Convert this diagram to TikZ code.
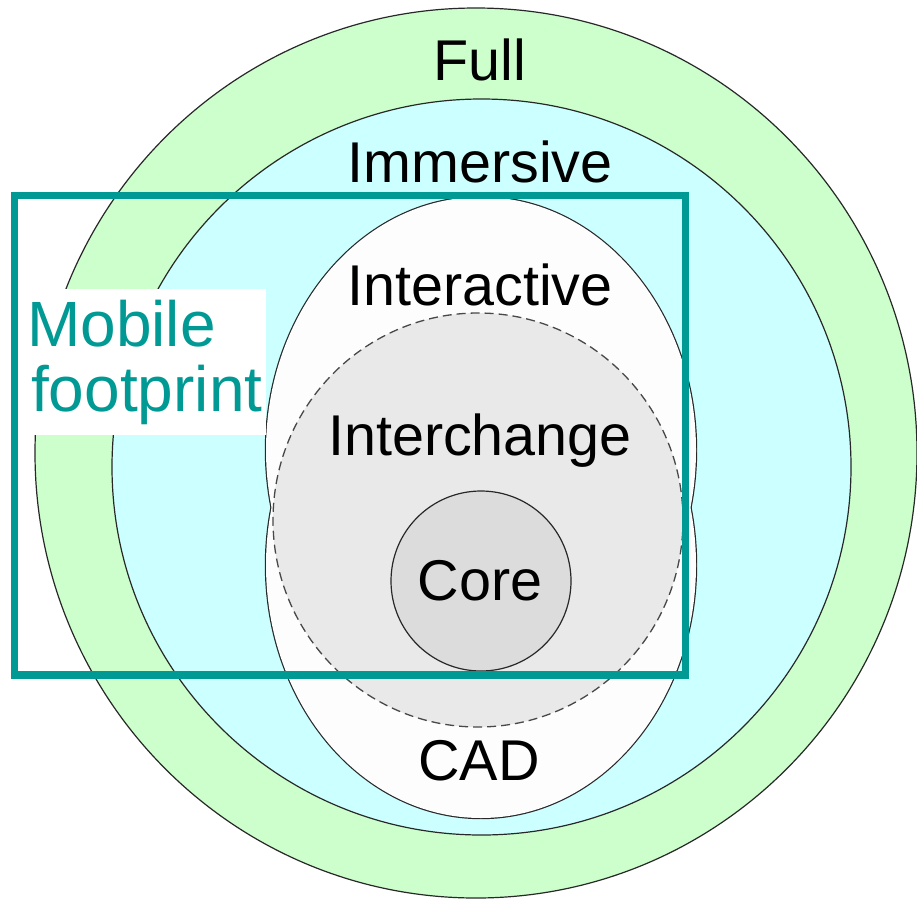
\documentclass[tikz,border=0pt]{standalone}
\usepackage{fontspec}
\setmainfont{Liberation Sans}
\definecolor{fullgreen}{RGB}{204,255,204}
\definecolor{immcyan}{RGB}{204,255,255}
\definecolor{interfill}{RGB}{253,253,253}
\definecolor{chgfill}{RGB}{233,233,233}
\definecolor{corefill}{RGB}{220,220,220}
\definecolor{mobteal}{RGB}{0,153,148}
\definecolor{ringline}{RGB}{40,40,40}
\begin{document}
\begin{tikzpicture}[x=1pt,y=-1pt,
  ring/.style={draw=ringline, line width=1.2pt},
  lbl/.style={font=\fontsize{57.5}{66}\selectfont, text=black, inner sep=0pt, anchor=base},
  moblbl/.style={font=\fontsize{64}{66}\selectfont, text=mobteal, inner sep=0pt, anchor=base west}]
\useasboundingbox (0,0) rectangle (917,900);
\fill[white] (0,0) rectangle (917,900);
% Full
\draw[ring, fill=fullgreen] (476,453) ellipse [x radius=441pt, y radius=445pt];
% Immersive
\draw[ring, fill=immcyan] (481.5,467) ellipse [x radius=369.5pt, y radius=368pt];
% Interactive / CAD union (outline of the union only)
\draw[draw=ringline, line width=2.4pt] (481,450) ellipse [x radius=215pt, y radius=253pt];
\draw[draw=ringline, line width=2.4pt] (481,565) ellipse [x radius=215pt, y radius=253pt];
\fill[interfill] (481,450) ellipse [x radius=215pt, y radius=253pt];
\fill[interfill] (481,565) ellipse [x radius=215pt, y radius=253pt];
% Interchange
\draw[draw=ringline!85, line width=1.3pt, dash pattern=on 9pt off 5pt, fill=chgfill] (478,520) ellipse [x radius=205pt, y radius=207pt];
% Core
\draw[ring, fill=corefill] (481,581) circle [radius=90pt];
% Mobile footprint label box and frame
\fill[white] (18,289) rectangle (266,435);
\draw[mobteal, line width=7.5pt] (14.5,195.5) rectangle (685.5,675);
% Labels
\node[lbl] (full) at (480,80) {Full};
\node[lbl] (imm) at (480,182) {Immersive};
\node[lbl] (inter) at (480,305) {Interactive};
\node[lbl] (chg) at (480,455) {Interchange};
\node[lbl] (core) at (480,600) {Core};
\node[lbl] (cad) at (479,780) {CAD};
\node[moblbl] (mob) at (27,346) {Mobile};
\node[moblbl] (foot) at (31,411) {footprint};
\end{tikzpicture}
\end{document}
